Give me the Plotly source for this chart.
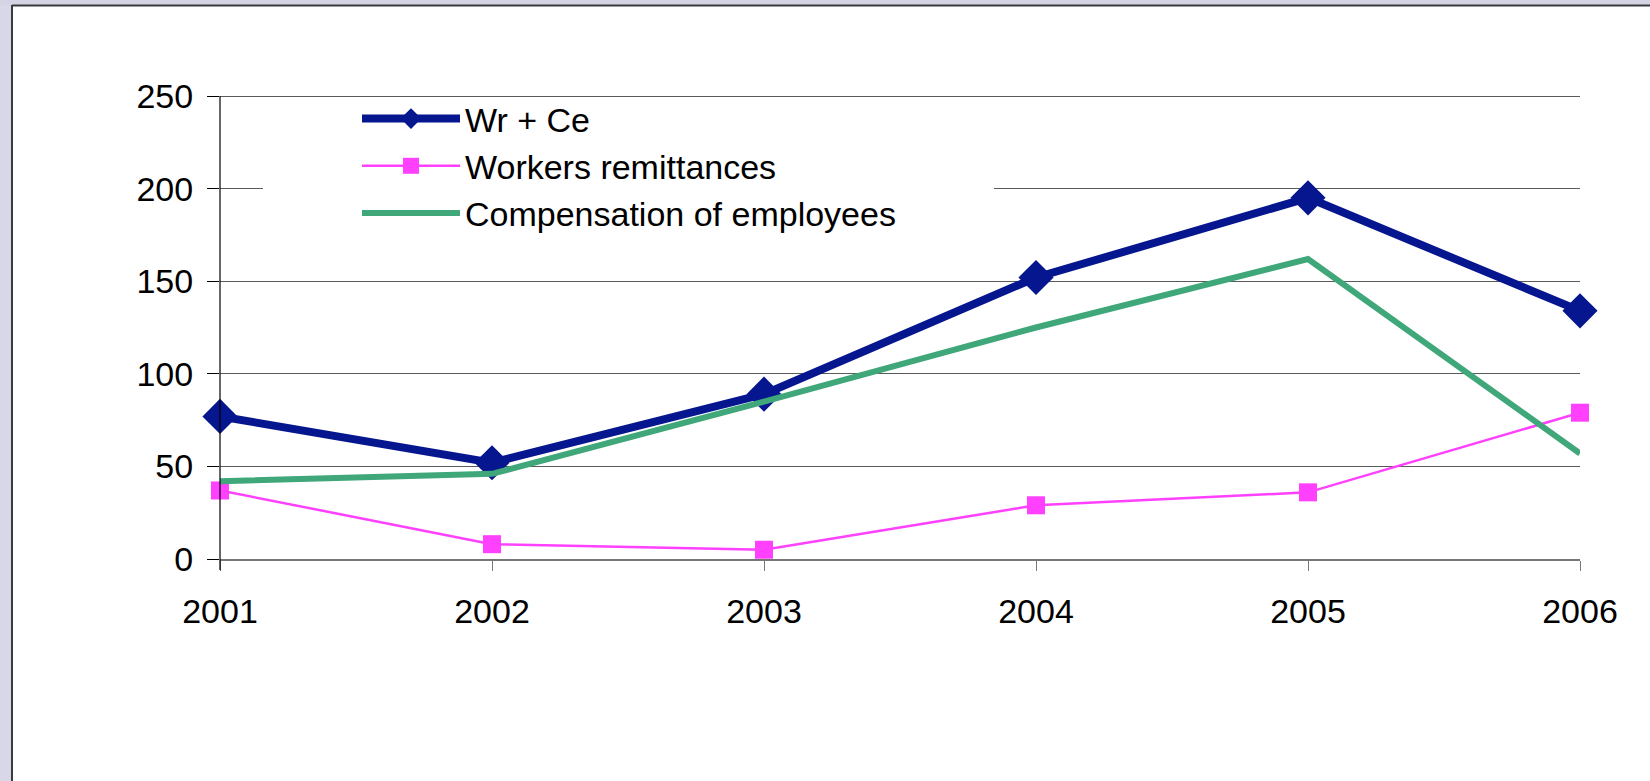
import plotly.graph_objects as go

years = [2001, 2002, 2003, 2004, 2005, 2006]
wr_ce = [77, 52, 89, 152, 195, 134]
workers_remittances = [37, 8, 5, 29, 36, 79]
compensation = [42, 46, 85, 125, 162, 57]
y_ticks = [0, 50, 100, 150, 200, 250]

W, H = 1650, 781
L, R, T, B = 220, 1580, 92, 559
pw, ph = R - L, B - T
Y_TOP = 250 * (B - T) / (559 - 96)  # value at the top pixel so 250 sits at y=96


def px_x(x):
    return (x - L) / pw


def px_y(y):
    return (B - y) / ph


FONT = "Liberation Sans"

fig = go.Figure()
fig.add_trace(go.Scatter(
    x=years, y=wr_ce, name="Wr + Ce", mode="lines+markers",
    line=dict(color="#05168f", width=8),
    marker=dict(symbol="diamond", size=27, color="#05168f"),
    cliponaxis=False))
fig.add_trace(go.Scatter(
    x=years, y=workers_remittances, name="Workers remittances", mode="lines+markers",
    line=dict(color="#ff40ff", width=2.5),
    marker=dict(symbol="square", size=18, color="#ff40ff"),
    cliponaxis=False))
fig.add_trace(go.Scatter(
    x=years, y=compensation, name="Compensation of employees", mode="lines",
    line=dict(color="#3fa779", width=6),
    cliponaxis=False))

shapes = [
    dict(type="rect", xref="paper", yref="paper", x0=px_x(0), x1=px_x(12), y0=px_y(H), y1=px_y(0),
         fillcolor="#d8d7e7", line=dict(width=0), layer="below"),
    dict(type="rect", xref="paper", yref="paper", x0=px_x(0), x1=px_x(W), y0=px_y(5), y1=px_y(0),
         fillcolor="#d5d4e4", line=dict(width=0), layer="below"),
    dict(type="line", xref="paper", yref="paper", x0=px_x(12), x1=px_x(12), y0=px_y(5), y1=px_y(H),
         line=dict(color="#3a3a3a", width=2)),
    dict(type="line", xref="paper", yref="paper", x0=px_x(12), x1=px_x(W), y0=px_y(5.5), y1=px_y(5.5),
         line=dict(color="#3a3a3a", width=2)),
    dict(type="rect", xref="paper", yref="paper", x0=px_x(263), x1=px_x(994), y0=px_y(228), y1=px_y(98),
         fillcolor="white", line=dict(width=0), layer="above"),
    # y-axis line from the 250 gridline down through the x-axis ticks
    dict(type="line", xref="paper", yref="paper", x0=0, x1=0, y0=px_y(570), y1=px_y(96),
         line=dict(color="black", width=1.2)),
]

fig.update_layout(
    width=W, height=H,
    margin=dict(l=L, r=W - R, t=T, b=H - B, pad=0),
    paper_bgcolor="white", plot_bgcolor="white",
    font=dict(family=FONT, size=34, color="black"),
    showlegend=True,
    legend=dict(x=px_x(357), y=px_y(90), xanchor="left", yanchor="top",
                bgcolor="rgba(0,0,0,0)", borderwidth=0, itemwidth=98,
                font=dict(family=FONT, size=34, color="black"),
                tracegroupgap=0, itemsizing="trace"),
    shapes=shapes,
    xaxis=dict(range=[2001, 2006], tickmode="array", tickvals=years,
               ticktext=[str(y) for y in years],
               showgrid=False, zeroline=False,
               showline=True, linecolor="#777777", linewidth=1.5,
               ticks="outside", ticklen=10, tickcolor="#777777", tickwidth=1.2,
               ticklabelstandoff=11, tickfont=dict(family=FONT, size=34)),
    yaxis=dict(range=[0, Y_TOP], tickmode="array", tickvals=y_ticks,
               showgrid=True, gridcolor="#5a5a5a", gridwidth=1.3,
               zeroline=False, showline=False,
               ticks="outside", ticklen=12, tickcolor="black", tickwidth=1.2,
               ticklabelstandoff=7, tickfont=dict(family=FONT, size=34)),
)

fig.write_html("out.html", config={"displayModeBar": False},
               post_script="document.body.style.margin='0px';")
